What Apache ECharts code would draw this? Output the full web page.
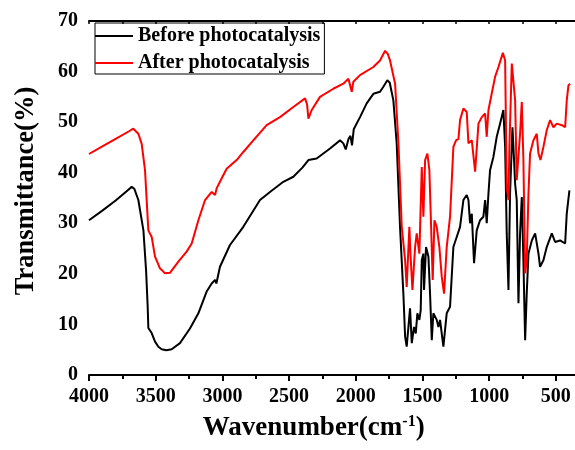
<!DOCTYPE html>
<html>
<head>
<meta charset="utf-8">
<script src="https://cdn.jsdelivr.net/npm/echarts@6/dist/echarts.min.js"></script>
<style>
html,body{margin:0;padding:0;background:#fff;}
#chart{width:575px;height:450px;}
</style>
</head>
<body>
<div id="chart"></div>
<script>
var seriesNames = ['Before photocatalysis', 'After photocatalysis'];
var yTicks = [0, 10, 20, 30, 40, 50, 60, 70];
var xTickLabels = [4000, 3500, 3000, 2500, 2000, 1500, 1000, 500];

var beforeX = [4000,3900,3800,3720,3680,3660,3630,3592,3572,3560,3555,3530,3505,3480,3455,3420,3380,3318,3243,3180,3118,3080,3055,3045,3018,2943,2843,2718,2643,2543,2468,2400,2355,2293,2193,2118,2093,2075,2055,2040,2028,2015,1968,1918,1868,1818,1793,1763,1745,1718,1693,1668,1643,1630,1618,1605,1593,1580,1563,1550,1538,1523,1513,1505,1493,1488,1473,1455,1443,1430,1418,1393,1380,1368,1343,1318,1293,1268,1243,1218,1193,1168,1155,1143,1130,1113,1093,1068,1043,1030,1018,1005,993,968,943,918,893,880,868,855,843,825,813,805,793,780,768,755,743,730,718,705,680,655,630,618,593,568,530,505,468,430,418,398];
var beforeY = [30.6,32.5,34.5,36.3,37.2,36.8,34.6,28.6,20.7,13.5,9.3,8.3,6.6,5.6,5.1,4.9,5.1,6.3,9.2,12.2,16.5,18.1,18.8,18.1,21.4,25.7,29.3,34.6,36.2,38.2,39.2,41.0,42.5,42.8,44.8,46.4,45.8,44.6,46.6,47.3,45.4,48.6,51.0,53.7,55.6,56.0,57.0,58.3,57.8,54.3,45.8,29.3,16.1,7.6,5.6,9.5,13.2,6.3,9.5,8.2,12.2,10.9,12.8,22.7,24,16.8,25.3,23.4,16.1,6.9,12.2,10.9,9.5,10.9,5.6,12.2,13.5,25.3,27.3,29.3,34.6,35.6,34.6,30,31.9,22.1,28.6,30.6,31.3,34.6,30,35.9,40.5,43.1,47.1,49.7,52.4,45.1,28,16.8,35.9,49,42.5,37.8,34.6,14.2,28,35.2,22.7,6.9,16.1,24,26.6,28,24,21.4,22.7,25.3,28,26.3,26.6,26,31.9,36.5];

var afterX = [4000,3900,3800,3700,3668,3630,3605,3580,3555,3530,3505,3468,3430,3393,3330,3268,3230,3180,3130,3080,3055,3043,3005,2968,2893,2843,2768,2668,2568,2468,2380,2365,2355,2330,2268,2168,2093,2055,2030,2018,1968,1868,1818,1780,1760,1743,1705,1680,1655,1630,1618,1598,1590,1575,1555,1543,1523,1505,1493,1480,1463,1448,1435,1423,1410,1393,1373,1355,1338,1318,1293,1268,1248,1230,1218,1193,1168,1155,1130,1105,1080,1055,1030,1018,1005,980,955,930,897,880,868,855,848,830,823,805,793,768,755,743,730,718,705,693,668,643,630,615,593,568,543,518,493,455,430,418,405,393];
var afterY = [43.7,45.2,46.7,48.2,48.7,47.7,45.7,40.5,28.6,27.3,23.4,21.1,20.1,20.2,22.4,24.4,26,30.6,34.6,36.2,35.6,36.9,38.9,40.8,42.5,44.1,46.4,49.4,51,53,54.7,53.5,50.7,52.4,55,56.6,57.6,58.6,56,58,59.3,60.9,62.2,64.1,63.5,62.2,57.6,45.8,29.3,22.7,17.4,29.3,24,16.8,25.3,28,24,41.1,31.3,42.5,43.8,40.5,29.3,18.8,30.6,29.3,25.3,19.4,16.1,25.3,31.3,45.1,46.4,46.7,50.4,52.7,52,45.8,46.4,40.2,49.7,51,51.7,47.1,52.4,55.7,59,60.9,63.7,62.2,37.2,34.6,45,61.6,61.9,54.3,38.5,47.7,54,42.5,20.1,22.7,35.9,43.8,46.4,47.7,43.8,42.5,45.1,48.4,50.4,49,49.7,49.4,49,54.3,57.3,57.6];

function pairs(xs, ys) { return xs.map(function (x, i) { return [x, ys[i]]; }); }

var FONT = "'Liberation Serif','Times New Roman',serif";
var chart = echarts.init(document.getElementById('chart'), null, {renderer: 'canvas'});
var axisLineStyle = {color: '#000', width: 2};

chart.setOption({
  animation: false,
  backgroundColor: '#fff',
  grid: {left: 89, top: 21, right: -47.5, bottom: 75, outerBoundsMode: 'none', containLabel: false},
  legend: {
    orient: 'vertical', left: 95, top: 23,
    data: seriesNames.map(function (n) { return {name: n, icon: 'rect'}; }),
    itemWidth: 38, itemHeight: 2, itemGap: 7,
    padding: [3, 4, 1, 0],
    borderColor: '#000', borderWidth: 1,
    textStyle: {fontFamily: FONT, fontWeight: 'bold', fontSize: 20, color: '#000', lineHeight: 20}
  },
  xAxis: [{
    type: 'value', min: 0, max: 4000, interval: 500, inverse: true,
    position: 'bottom',
    axisLine: {lineStyle: axisLineStyle},
    axisTick: {inside: false, length: 6, lineStyle: {width: 2, color: '#000'}},
    minorTick: {show: true, splitNumber: 2, length: 4, lineStyle: {width: 2, color: '#000'}},
    splitLine: {show: false},
    axisLabel: {
      margin: 12, fontFamily: FONT, fontWeight: 'bold', fontSize: 20, color: '#000',
      formatter: function (v) { return xTickLabels.indexOf(v) >= 0 ? String(v) : ''; }
    },
    name: '{a|Wavenumber(cm}{s|-1}{a|)}',
    nameLocation: 'middle', nameGap: 39,
    nameTextStyle: {
      padding: [0, 84, 0, 0],
      rich: {
        a: {fontFamily: FONT, fontWeight: 'bold', fontSize: 27, color: '#000'},
        s: {fontFamily: FONT, fontWeight: 'bold', fontSize: 16, color: '#000', verticalAlign: 'top', padding: [0, 0, 12, 0]}
      }
    }
  }, {
    type: 'value', min: 0, max: 4000, interval: 500, inverse: true,
    position: 'top',
    axisLine: {lineStyle: axisLineStyle},
    axisTick: {inside: true, length: 3, lineStyle: {width: 1.5, color: '#000'}},
    minorTick: {show: true, splitNumber: 2, length: 3, lineStyle: {width: 1.5, color: '#000'}},
    splitLine: {show: false},
    axisLabel: {show: false}
  }],
  yAxis: {
    type: 'value', min: 0, max: 70, interval: 10,
    axisLine: {show: true, lineStyle: axisLineStyle},
    axisTick: {show: true, inside: false, length: 8, lineStyle: {width: 2, color: '#000'}},
    minorTick: {show: true, splitNumber: 2, length: 4, lineStyle: {width: 2, color: '#000'}},
    splitLine: {show: false},
    axisLabel: {
      margin: 11, fontFamily: FONT, fontWeight: 'bold', fontSize: 20, color: '#000',
      formatter: function (v) { return yTicks.indexOf(v) >= 0 ? String(v) : ''; }
    },
    name: 'Transmittance(%)',
    nameLocation: 'middle', nameGap: 49,
    nameTextStyle: {fontFamily: FONT, fontWeight: 'bold', fontSize: 26.5, color: '#000', padding: [0, 0, 0, 14]}
  },
  series: [{
    name: seriesNames[0], type: 'line', data: pairs(beforeX, beforeY),
    symbol: 'none', smooth: false, clip: true,
    lineStyle: {color: '#000', width: 2}, itemStyle: {color: '#000'}
  }, {
    name: seriesNames[1], type: 'line', data: pairs(afterX, afterY),
    symbol: 'none', smooth: false, clip: true,
    lineStyle: {color: '#ff0000', width: 2}, itemStyle: {color: '#ff0000'}
  }]
});
</script>
</body>
</html>
